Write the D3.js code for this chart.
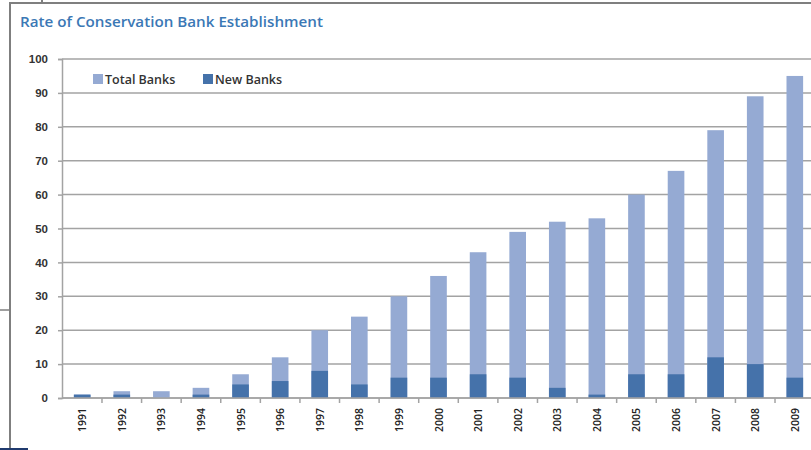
<!DOCTYPE html>
<html>
<head>
<meta charset="utf-8">
<script src="https://cdn.jsdelivr.net/npm/d3@7"></script>
<style>
  body { margin: 0; background: #fff; }
  svg { display: block; font-family: "Open Sans", "DejaVu Sans", sans-serif; }
</style>
</head>
<body>
<div id="chart"></div>
<script>
var years = ["1991","1992","1993","1994","1995","1996","1997","1998","1999","2000","2001","2002","2003","2004","2005","2006","2007","2008","2009"]
var totalBanks = [1, 2, 2, 3, 7, 12, 20, 24, 30, 36, 43, 49, 52, 53, 60, 67, 79, 89, 95]
var newBanks = [1, 1, 0, 1, 4, 5, 8, 4, 6, 6, 7, 6, 3, 1, 7, 7, 12, 10, 6]
var yTicks = [0, 10, 20, 30, 40, 50, 60, 70, 80, 90, 100]
var seriesNames = ["Total Banks", "New Banks"]

var color = d3.scaleOrdinal().domain(seriesNames).range(["#95aad3", "#4572aa"])

var width = 811, height = 450
var margin = {top: 59, right: -1, bottom: 52, left: 62}

var svg = d3.select("#chart").append("svg")
    .attr("width", width)
    .attr("height", height)

// scanned frame around the figure
svg.append("line").attr("x1", 10).attr("x2", 811).attr("y1", 3).attr("y2", 3)
    .style("stroke", "#7f7f7f").style("stroke-width", 2)
svg.append("line").attr("x1", 10).attr("x2", 10).attr("y1", 2).attr("y2", 449)
    .style("stroke", "#7f7f7f").style("stroke-width", 2)
svg.append("line").attr("x1", 42).attr("x2", 42).attr("y1", 0).attr("y2", 3)
    .style("stroke", "#7f7f7f").style("stroke-width", 2)
svg.append("line").attr("x1", 0).attr("x2", 10).attr("y1", 310).attr("y2", 310)
    .style("stroke", "#7f7f7f").style("stroke-width", 1.5)
svg.append("line").attr("x1", 0).attr("x2", 28).attr("y1", 449).attr("y2", 449)
    .style("stroke", "#1f3a6e").style("stroke-width", 2)

svg.append("text")
    .attr("x", 20).attr("y", 27)
    .style("font-size", "14px")
    .style("font-weight", "600")
    .style("fill", "#3b78b5")
    .attr("textLength", 303)
    .attr("lengthAdjust", "spacingAndGlyphs")
    .text("Rate of Conservation Bank Establishment")

var xScale = d3.scaleBand().domain(years).range([margin.left, 815]).paddingInner(0.58).paddingOuter(0.3)
var yScale = d3.scaleLinear().domain([0, 100]).range([height - margin.bottom, margin.top])

// gridlines
svg.selectAll(".grid").data(yTicks).enter().append("line")
    .attr("x1", margin.left).attr("x2", width)
    .attr("y1", function(d) { return yScale(d) })
    .attr("y2", function(d) { return yScale(d) })
    .style("stroke", "#a3a3a3").style("stroke-width", 1.5)

// y axis
var yAxis = svg.append("g")
    .attr("transform", "translate(" + margin.left + ",0)")
    .call(d3.axisLeft(yScale).tickValues(yTicks).tickSize(4).tickPadding(10))
yAxis.select(".domain").style("stroke", "#a3a3a3").style("stroke-width", 1.5)
yAxis.selectAll(".tick line").style("stroke", "#a3a3a3").style("stroke-width", 1.5)
yAxis.selectAll("text").style("font-size", "11.5px").style("font-weight", "600").style("fill", "#333")

// bars: total behind, new in front
svg.selectAll(".total").data(years).enter().append("rect")
    .attr("x", function(d) { return xScale(d) })
    .attr("width", xScale.bandwidth())
    .attr("y", function(d, i) { return yScale(totalBanks[i]) })
    .attr("height", function(d, i) { return yScale(0) - yScale(totalBanks[i]) })
    .style("fill", color("Total Banks"))

svg.selectAll(".newb").data(years).enter().append("rect")
    .attr("x", function(d) { return xScale(d) })
    .attr("width", xScale.bandwidth())
    .attr("y", function(d, i) { return yScale(newBanks[i]) })
    .attr("height", function(d, i) { return yScale(0) - yScale(newBanks[i]) })
    .style("fill", color("New Banks"))

// x axis with ticks between categories
var step = xScale.step()
var xAxis = svg.append("g").attr("transform", "translate(0," + yScale(0) + ")")
xAxis.append("line").attr("x1", margin.left).attr("x2", width)
    .style("stroke", "#a3a3a3").style("stroke-width", 1.5)
xAxis.selectAll(".xt").data(years).enter().append("line")
    .attr("x1", function(d) { return xScale(d) + xScale.bandwidth() / 2 + step / 2 })
    .attr("x2", function(d) { return xScale(d) + xScale.bandwidth() / 2 + step / 2 })
    .attr("y1", 0).attr("y2", 5)
    .style("stroke", "#a3a3a3").style("stroke-width", 1.5)
xAxis.selectAll(".xl").data(years).enter().append("text")
    .attr("transform", function(d) {
        return "translate(" + (xScale(d) + xScale.bandwidth() / 2 + 4) + ",10) rotate(-90)"
    })
    .style("text-anchor", "end")
    .style("font-size", "10.5px")
    .style("font-weight", "600")
    .style("fill", "#222")
    .text(function(d) { return d })

// legend
var legend = svg.selectAll(".legends").data(seriesNames).enter().append("g")
    .attr("transform", function(d, i) { return "translate(" + (93 + i * 110) + ",74)" })
legend.append("rect").attr("width", 10).attr("height", 10).attr("fill", function(d) { return color(d) })
legend.append("text").attr("x", 12).attr("y", 9.5)
    .style("font-size", "12.5px").style("font-weight", "600").style("fill", "#333")
    .text(function(d) { return d })
</script>
</body>
</html>
